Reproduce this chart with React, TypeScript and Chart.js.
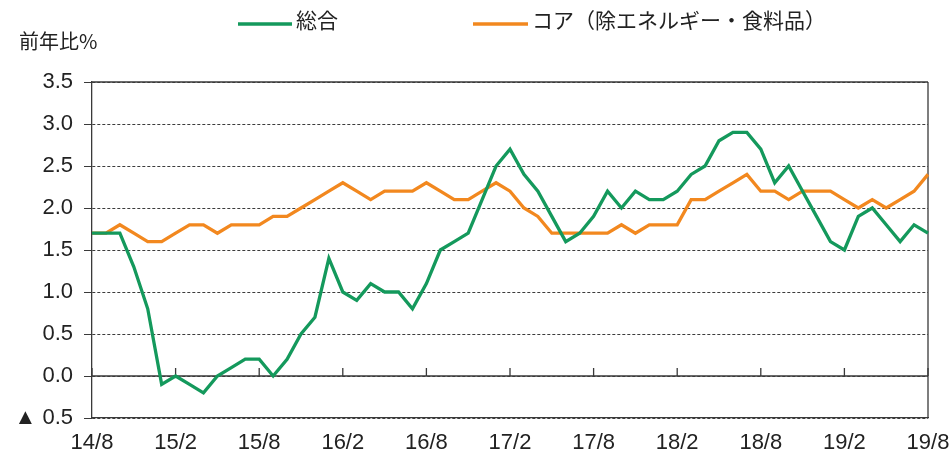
import React, { useEffect, useRef } from "react";
import { Chart, registerables } from "chart.js";

Chart.register(...registerables);

const categories: string[] = [
  "14/8", "14/9", "14/10", "14/11", "14/12", "15/1", "15/2", "15/3", "15/4", "15/5", "15/6", "15/7",
  "15/8", "15/9", "15/10", "15/11", "15/12", "16/1", "16/2", "16/3", "16/4", "16/5", "16/6", "16/7",
  "16/8", "16/9", "16/10", "16/11", "16/12", "17/1", "17/2", "17/3", "17/4", "17/5", "17/6", "17/7",
  "17/8", "17/9", "17/10", "17/11", "17/12", "18/1", "18/2", "18/3", "18/4", "18/5", "18/6", "18/7",
  "18/8", "18/9", "18/10", "18/11", "18/12", "19/1", "19/2", "19/3", "19/4", "19/5", "19/6", "19/7",
  "19/8",
];

const xTickLabels: string[] = ["14/8", "15/2", "15/8", "16/2", "16/8", "17/2", "17/8", "18/2", "18/8", "19/2", "19/8"];

const overall: number[] = [
  1.7, 1.7, 1.7, 1.3, 0.8, -0.1, 0.0, -0.1, -0.2, 0.0, 0.1, 0.2,
  0.2, 0.0, 0.2, 0.5, 0.7, 1.4, 1.0, 0.9, 1.1, 1.0, 1.0, 0.8,
  1.1, 1.5, 1.6, 1.7, 2.1, 2.5, 2.7, 2.4, 2.2, 1.9, 1.6, 1.7,
  1.9, 2.2, 2.0, 2.2, 2.1, 2.1, 2.2, 2.4, 2.5, 2.8, 2.9, 2.9,
  2.7, 2.3, 2.5, 2.2, 1.9, 1.6, 1.5, 1.9, 2.0, 1.8, 1.6, 1.8,
  1.7,
];

const core: number[] = [
  1.7, 1.7, 1.8, 1.7, 1.6, 1.6, 1.7, 1.8, 1.8, 1.7, 1.8, 1.8,
  1.8, 1.9, 1.9, 2.0, 2.1, 2.2, 2.3, 2.2, 2.1, 2.2, 2.2, 2.2,
  2.3, 2.2, 2.1, 2.1, 2.2, 2.3, 2.2, 2.0, 1.9, 1.7, 1.7, 1.7,
  1.7, 1.7, 1.8, 1.7, 1.8, 1.8, 1.8, 2.1, 2.1, 2.2, 2.3, 2.4,
  2.2, 2.2, 2.1, 2.2, 2.2, 2.2, 2.1, 2.0, 2.1, 2.0, 2.1, 2.2,
  2.4,
];

const seriesLabels: string[] = ["総合", "コア（除エネルギー・食料品）"];
const yAxisTitle = "前年比%";

const NUM_FONT = "'Liberation Sans', Arial, 'Noto Sans CJK JP', sans-serif";
const JP_FONT = "'Noto Sans CJK JP', 'Noto Sans', sans-serif";
const AXIS_COLOR = "#3a3a3a";

const framePlugin = {
  id: "framePlugin",
  beforeDatasetsDraw(chart: any) {
    const { ctx, chartArea, scales } = chart;
    const x = scales.x;
    const y = scales.y;
    const y0 = y.getPixelForValue(0);
    ctx.save();
    ctx.strokeStyle = AXIS_COLOR;
    ctx.lineWidth = 1.3;
    ctx.setLineDash([]);
    ctx.beginPath();
    ctx.moveTo(chartArea.left, y0);
    ctx.lineTo(chartArea.right, y0);
    ctx.moveTo(chartArea.left, chartArea.top);
    ctx.lineTo(chartArea.right, chartArea.top);
    ctx.moveTo(chartArea.right, chartArea.top);
    ctx.lineTo(chartArea.right, chartArea.bottom);
    ctx.stroke();
    ctx.beginPath();
    categories.forEach((c, i) => {
      if (xTickLabels.includes(c)) {
        const px = x.getPixelForValue(i);
        ctx.moveTo(px, y0 - 8);
        ctx.lineTo(px, y0);
      }
    });
    ctx.stroke();
    ctx.restore();
  },
  afterDraw(chart: any) {
    const { ctx } = chart;
    ctx.save();
    ctx.fillStyle = "#222";
    ctx.font = `20px ${JP_FONT}`;
    ctx.textBaseline = "middle";
    ctx.textAlign = "left";
    ctx.fillText(yAxisTitle, 19, 41);
    const items = [
      { x0: 238, x1: 292 },
      { x0: 473, x1: 528 },
    ];
    chart.data.datasets.forEach((ds: any, i: number) => {
      const it = items[i];
      ctx.strokeStyle = ds.borderColor;
      ctx.lineWidth = 3.5;
      ctx.beginPath();
      ctx.moveTo(it.x0, 24);
      ctx.lineTo(it.x1, 24);
      ctx.stroke();
      ctx.fillStyle = "#222";
      ctx.font = `21px ${JP_FONT}`;
      ctx.fillText(ds.label, it.x1 + 4, 20);
    });
    ctx.restore();
  },
};

export default function App() {
  const canvasRef = useRef<HTMLCanvasElement | null>(null);

  useEffect(() => {
    document.body.style.margin = "0";
    const canvas = canvasRef.current;
    if (!canvas) return;
    const chart = new Chart(canvas, {
      type: "line",
      data: {
        labels: categories,
        datasets: [
          {
            label: seriesLabels[0],
            data: overall,
            borderColor: "#14995c",
            backgroundColor: "#14995c",
            borderWidth: 3.3,
            pointRadius: 0,
            tension: 0,
          },
          {
            label: seriesLabels[1],
            data: core,
            borderColor: "#f2881f",
            backgroundColor: "#f2881f",
            borderWidth: 3.3,
            pointRadius: 0,
            tension: 0,
          },
        ],
      },
      options: {
        animation: false,
        responsive: true,
        maintainAspectRatio: false,
        layout: { padding: { top: 82, right: 23, left: 0, bottom: 0 } },
        plugins: {
          legend: { display: false },
          tooltip: { enabled: false },
          title: { display: false },
        },
        scales: {
          x: {
            type: "category",
            grid: { display: true, drawOnChartArea: false, drawTicks: false },
            border: { display: true, color: AXIS_COLOR, width: 1.3 },
            ticks: {
              autoSkip: false,
              maxRotation: 0,
              minRotation: 0,
              padding: 12,
              color: "#222",
              font: { family: NUM_FONT, size: 22 },
              callback: (_v: any, i: number) => (xTickLabels.includes(categories[i]) ? categories[i] : ""),
            },
            afterFit: (s: any) => {
              s.height = 39;
              s.paddingLeft = 0;
              s.paddingRight = 0;
            },
          },
          y: {
            min: -0.5,
            max: 3.5,
            grid: {
              color: "#3c3c3c",
              lineWidth: 1,
              drawTicks: true,
              tickLength: 8,
              tickColor: AXIS_COLOR,
            },
            border: { display: true, color: AXIS_COLOR, width: 1.3, dash: [3, 2] },
            ticks: {
              stepSize: 0.5,
              padding: 11,
              color: "#222",
              font: { family: NUM_FONT, size: 22 },
              callback: (v: any) => {
                const n = Number(v);
                return n < 0 ? "▲ " + Math.abs(n).toFixed(1) : n.toFixed(1);
              },
            },
            afterFit: (s: any) => {
              s.width = 92;
              s.paddingTop = 0;
              s.paddingBottom = 0;
            },
          },
        },
      },
      plugins: [framePlugin],
    });
    return () => chart.destroy();
  }, []);

  return (
    <div style={{ width: 951, height: 457, position: "relative" }}>
      <canvas ref={canvasRef} />
    </div>
  );
}
